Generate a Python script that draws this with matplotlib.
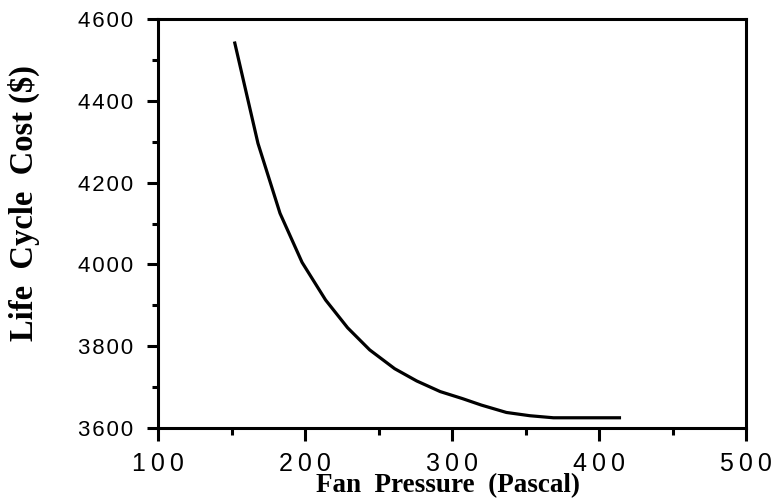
import numpy as np
import matplotlib.pyplot as plt
from matplotlib.ticker import MultipleLocator, FuncFormatter

# fan pressure (Pascal) vs life cycle cost ($)
pressure = [152, 168, 183, 198, 214, 229, 244, 261, 276, 292, 307, 320, 337, 353, 369, 385, 400, 415]
cost = [4545, 4296, 4125, 4005, 3913, 3845, 3791, 3745, 3715, 3689, 3672, 3656, 3638, 3630, 3625, 3625, 3625, 3625]

xlabel = "Fan  Pressure  (Pascal)"
ylabel = "Life  Cycle  Cost ($)"

fig = plt.figure(figsize=(7.79, 5.01), dpi=100)
ax = fig.add_axes([158 / 779, 1 - 428 / 501, (746 - 158) / 779, (428 - 19) / 501])

ax.plot(pressure, cost, color='black', lw=2.3, solid_capstyle='butt')

ax.set_xlim(100, 500)
ax.set_ylim(3600, 4600)
ax.xaxis.set_major_locator(MultipleLocator(100))
ax.xaxis.set_minor_locator(MultipleLocator(50))
ax.yaxis.set_major_locator(MultipleLocator(200))
ax.yaxis.set_minor_locator(MultipleLocator(100))

# spaced out digits like the original
ax.xaxis.set_major_formatter(FuncFormatter(lambda v, p: '\u2009'.join(str(int(v)))))
ax.yaxis.set_major_formatter(FuncFormatter(lambda v, p: '\u200a'.join(str(int(v)))))

for s in ax.spines.values():
    s.set_linewidth(2.2)
ax.tick_params(axis='x', which='major', direction='out', length=9.5, width=2.2, labelsize=18, pad=8)
ax.tick_params(axis='x', which='minor', direction='out', length=5, width=2.2)
ax.tick_params(axis='y', which='major', direction='out', length=8, width=2.2, labelsize=16, pad=10)
ax.tick_params(axis='y', which='minor', direction='out', length=4.5, width=2.2)
for lab in ax.get_xticklabels() + ax.get_yticklabels():
    lab.set_family(['Liberation Sans', 'DejaVu Sans'])

fig.text(448 / 779, 1 - 486 / 501, xlabel, ha='center', va='center',
         family='Liberation Serif', weight='bold', fontsize=19.5)
fig.text(24 / 779, 1 - 203 / 501, ylabel, ha='center', va='center', rotation=90,
         family='Liberation Serif', weight='bold', fontsize=23.5)

fig.savefig('out.png', dpi=100)
